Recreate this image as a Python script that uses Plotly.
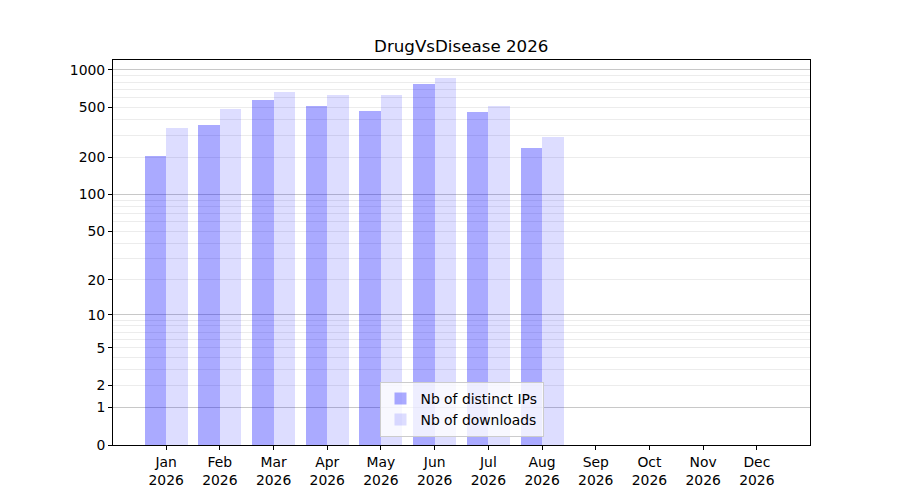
import numpy as np
import plotly.graph_objects as go

months = ["Jan", "Feb", "Mar", "Apr", "May", "Jun", "Jul", "Aug", "Sep", "Oct", "Nov", "Dec"]
year = "2026"
distinct_ips = [204, 362, 574, 514, 469, 772, 460, 237]
downloads = [343, 487, 666, 630, 630, 862, 514, 290]
label_ticks = [0, 1, 2, 5, 10, 20, 50, 100, 200, 500, 1000]
decade_ticks = [1, 10, 100, 1000]
minor_ticks = [2, 3, 4, 5, 6, 7, 8, 9, 20, 30, 40, 50, 60, 70, 80, 90,
               200, 300, 400, 500, 600, 700, 800, 900]


def f(v):
    return np.log10(1 + np.asarray(v, dtype=float))


FONT = "DejaVu Sans"
x_ips = list(range(len(distinct_ips)))
x_dl = list(range(len(downloads)))

fig = go.Figure()
fig.add_trace(go.Bar(
    x=x_ips, y=f(distinct_ips), width=0.4, offset=-0.4,
    marker=dict(color="rgba(0,0,255,0.333)", line=dict(width=0)),
    name="Nb of distinct IPs",
    customdata=distinct_ips, hovertemplate="%{customdata}<extra></extra>",
))
fig.add_trace(go.Bar(
    x=x_dl, y=f(downloads), width=0.4, offset=0,
    marker=dict(color="rgba(0,0,255,0.135)", line=dict(width=0)),
    name="Nb of downloads",
    customdata=downloads, hovertemplate="%{customdata}<extra></extra>",
))
fig.add_trace(go.Scatter(x=[None], y=[None], yaxis="y2", showlegend=False,
                         hoverinfo="skip"))

yr = [0, 3.08]
fig.update_layout(
    width=900, height=500,
    barmode="overlay",
    paper_bgcolor="white", plot_bgcolor="white",
    margin=dict(l=105, r=98, t=52, b=63),
    font=dict(family=FONT, size=13.9, color="black"),
    title=dict(text="DrugVsDisease 2026", x=0.5036, xanchor="center",
               yref="container", y=1 - 38 / 500, yanchor="middle",
               font=dict(size=16.7, family=FONT, color="black")),
    xaxis=dict(
        range=[-0.99, 11.99],
        tickvals=list(range(len(months))),
        ticktext=[f"{m}<br>{year}" for m in months],
        showgrid=False, zeroline=False,
        showline=True, mirror=True, linecolor="black", linewidth=1,
        ticks="outside", ticklen=4, tickcolor="black",
    ),
    yaxis=dict(
        range=yr,
        tickvals=list(f(label_ticks)),
        ticktext=[str(v) for v in label_ticks],
        showgrid=False, zeroline=False,
        showline=True, mirror=True, linecolor="black", linewidth=1,
        ticks="outside", ticklen=4, tickcolor="black",
        minor=dict(tickvals=list(f(minor_ticks)), showgrid=True,
                   gridcolor="rgb(236,236,236)", gridwidth=1, ticks=""),
    ),
    yaxis2=dict(
        range=yr, overlaying="y", side="left",
        tickvals=list(f(decade_ticks)),
        showticklabels=False, ticks="",
        showgrid=True, gridcolor="rgb(200,200,200)", gridwidth=1,
        zeroline=False, showline=False,
    ),
    legend=dict(
        x=0.5, xanchor="center", y=0.021, yanchor="bottom",
        bgcolor="rgba(255,255,255,0.8)", bordercolor="#cccccc", borderwidth=1,
        font=dict(size=13.9, family=FONT),
        traceorder="normal",
    ),
    bargap=0,
)

fig.write_html("out.html")
